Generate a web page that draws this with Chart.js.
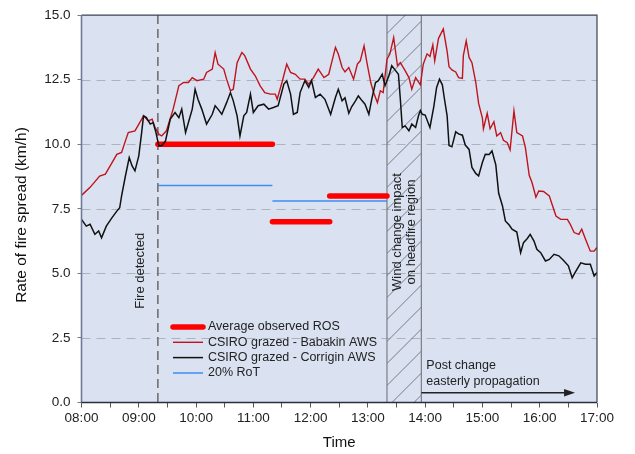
<!DOCTYPE html>
<html><head><meta charset="utf-8">
<script src="https://cdn.jsdelivr.net/npm/chart.js@4.4.1/dist/chart.umd.min.js"></script>
<style>html,body{margin:0;padding:0;background:#fff}</style>
</head><body>
<canvas id="c" width="635" height="454"></canvas>
<script>
// x values are minutes after 08:00
const timeLabels = ['08:00','09:00','10:00','11:00','12:00','13:00','14:00','15:00','16:00','17:00'];
const yTickValues = [0, 2.5, 5, 7.5, 10, 12.5, 15];

const babakinT = [0,9,19,25,32,37,42,46,49,56,61,65,70,74,77,81,84,89,96,102,107,112,116,121,128,131,137,140,143,149,152,156,159,163,168,171,177,182,187,192,198,203,205,210,215,219,224,229,234,238,243,248,254,259,262,266,269,273,276,280,285,289,292,296,299,303,306,310,313,316,320,323,327,331,334,339,343,346,350,355,358,362,365,368,370,374,379,383,385,388,392,395,399,400,403,406,409,413,416,420,421,425,428,432,435,439,442,446,449,453,456,462,465,469,472,476,479,484,490,493,497,502,509,512,516,521,524,528,533,537,540];
const babakinV = [8.02,8.33,8.77,8.84,9.29,9.61,9.68,10.13,10.45,10.52,10.84,11.1,10.9,10.97,10.65,10.39,10.32,10.52,11.36,12.27,12.39,12.39,12.58,12.46,12.52,12.78,12.91,13.55,13.1,12.91,12.52,12.07,12.13,13.16,13.55,13.43,12.91,12.65,12.27,12.0,11.94,11.94,11.74,12.39,13.1,12.78,12.71,12.52,12.52,12.33,12.58,12.91,12.58,12.71,13.16,13.75,13.49,12.97,12.8,12.97,12.52,13.1,13.23,13.81,13.16,12.39,12.0,11.61,12.07,12.0,13.29,13.49,14.13,13.04,13.16,12.85,12.58,12.13,12.58,12.3,13.1,13.5,13.4,13.85,13.23,14.1,14.46,13.6,13.0,12.88,12.8,12.58,12.55,13.43,14.0,13.36,13.16,12.4,11.58,11.0,10.6,11.2,10.6,10.87,10.32,10.45,10.15,10.06,9.78,11.29,10.45,10.32,9.87,8.8,8.51,7.95,8.19,8.17,8.0,7.67,7.22,7.09,7.09,6.9,6.58,6.51,6.71,6.32,5.86,5.86,6.0];

const corriginT = [0,5,9,14,18,21,26,32,37,40,42,46,50,53,56,60,63,65,68,72,75,78,81,84,88,93,98,102,105,109,112,116,119,122,126,131,137,140,143,147,152,156,159,163,166,170,173,177,180,185,191,196,201,206,212,215,219,222,226,229,234,238,241,245,250,255,261,266,269,273,276,280,283,287,290,294,297,301,304,308,311,315,318,322,325,329,332,334,336,339,343,346,350,353,355,357,360,365,369,372,375,378,380,383,385,388,392,395,399,402,406,409,413,416,420,423,427,430,434,437,441,444,448,451,456,460,463,467,470,474,477,481,486,490,495,500,505,510,514,517,523,528,533,537,540];
const corriginV = [7.09,6.83,6.9,6.51,6.64,6.38,6.83,7.16,7.41,7.54,8.0,8.77,9.48,9.16,8.97,9.55,10.45,11.1,11.03,10.78,10.84,10.45,9.94,9.94,10.13,10.97,11.23,11.03,11.36,10.45,10.84,11.36,12.13,11.74,11.36,10.78,11.16,11.49,11.36,11.16,11.61,12.0,11.68,11.1,10.32,11.1,11.23,11.94,11.23,11.49,11.55,11.36,11.42,11.49,12.33,12.46,11.94,11.16,11.23,12.0,12.46,12.2,12.46,11.81,11.94,11.74,11.16,11.81,12.13,11.68,11.8,11.2,11.45,11.68,11.87,11.68,11.55,11.16,11.74,12.39,12.46,12.71,12.27,12.65,13.04,12.85,12.71,11.74,10.65,10.71,10.52,10.78,10.65,11.1,11.3,11.16,11.13,10.65,11.45,12.2,12.52,12.3,11.8,11.1,9.95,9.9,10.48,10.4,10.35,9.97,9.8,9.1,8.87,8.77,9.3,9.61,9.6,9.74,9.2,8.1,7.61,7.03,6.87,6.71,6.6,5.8,6.19,6.35,6.51,6.25,5.93,5.8,5.48,5.54,5.74,5.68,5.5,5.29,4.83,5.03,5.41,5.35,5.35,4.9,5.03];

// Average observed ROS segments
const rosStart = [80, 200, 260];
const rosEnd   = [200, 260, 320];
const rosValue = [10.0, 7.0, 8.0];
// 20% RoT segments
const rotStart = [80, 200];
const rotEnd   = [200, 320];
const rotValue = [8.4, 7.8];

const fireDetectedT = 80;
const windChangeStart = 320, windChangeEnd = 356;
const arrowStart = 356, arrowEnd = 517, arrowValue = 0.38;

const legendLabels = ['Average observed ROS','CSIRO grazed - Babakin AWS','CSIRO grazed - Corrigin AWS','20% RoT'];
const yTitle = 'Rate of fire spread (km/h)';

const FONT = '"Liberation Sans", Arial, sans-serif';
const C_RED_LINE = '#c0141c', C_BLACK = '#111111', C_ROS = '#ff0000', C_ROT = '#3d8ef0';

const datasets = [];
for (let i = 0; i < rosStart.length; i++) {
  datasets.push({data:[{x:rosStart[i],y:rosValue[i]},{x:rosEnd[i],y:rosValue[i]}],
    borderColor:C_ROS, borderWidth:5.5, borderCapStyle:'round', pointRadius:0, order:10});
}
for (let i = 0; i < rotStart.length; i++) {
  datasets.push({data:[{x:rotStart[i],y:rotValue[i]},{x:rotEnd[i],y:rotValue[i]}],
    borderColor:C_ROT, borderWidth:1.5, pointRadius:0, order:9});
}
datasets.push({data: babakinT.map((t,i)=>({x:t,y:babakinV[i]})), borderColor:C_RED_LINE, borderWidth:1.4, pointRadius:0, order:2});
datasets.push({data: corriginT.map((t,i)=>({x:t,y:corriginV[i]})), borderColor:C_BLACK, borderWidth:1.5, pointRadius:0, order:1});

const bgPlugin = {
  id:'bg',
  beforeDatasetsDraw(chart){
    const {ctx, chartArea:a, scales:{x,y}} = chart;
    ctx.save();
    ctx.fillStyle = '#dae2f2';
    ctx.fillRect(a.left, a.top, a.right-a.left, a.bottom-a.top);
    // dashed grid
    ctx.strokeStyle = '#adb3bd'; ctx.lineWidth = 1; ctx.setLineDash([9,6]);
    yTickValues.forEach(v => { if (v>0 && v<15) { const py = Math.round(y.getPixelForValue(v))+0.5; ctx.beginPath(); ctx.moveTo(a.left,py); ctx.lineTo(a.right,py); ctx.stroke(); }});
    // fire detected
    ctx.strokeStyle = '#707070'; ctx.lineWidth = 1.6; ctx.setLineDash([9,5]);
    const fx = x.getPixelForValue(fireDetectedT);
    ctx.beginPath(); ctx.moveTo(fx, a.top); ctx.lineTo(fx, a.bottom); ctx.stroke();
    ctx.setLineDash([]);
    // hatched region
    const x0 = x.getPixelForValue(windChangeStart), x1 = x.getPixelForValue(windChangeEnd);
    ctx.save();
    ctx.beginPath(); ctx.rect(x0, a.top, x1-x0, a.bottom-a.top); ctx.clip();
    ctx.strokeStyle = '#6d7078'; ctx.lineWidth = 0.9;
    for (let yy = a.top - 60; yy < a.bottom + 60; yy += 22) {
      ctx.beginPath(); ctx.moveTo(x0, yy + (x1-x0)); ctx.lineTo(x1, yy); ctx.stroke();
    }
    ctx.restore();
    ctx.strokeStyle = '#7a7d85'; ctx.lineWidth = 1.2;
    ctx.beginPath(); ctx.moveTo(x0, a.top); ctx.lineTo(x0, a.bottom); ctx.moveTo(x1, a.top); ctx.lineTo(x1, a.bottom); ctx.stroke();
    // rotated texts
    ctx.fillStyle = '#222'; ctx.font = '13px ' + FONT; ctx.textAlign = 'center'; ctx.textBaseline = 'middle';
    ctx.save(); ctx.translate(fx - 17, y.getPixelForValue(5.1)); ctx.rotate(-Math.PI/2); ctx.fillText('Fire detected', 0, 0); ctx.restore();
    ctx.save(); ctx.translate((x0+x1)/2, y.getPixelForValue(6.6)); ctx.rotate(-Math.PI/2);
    ctx.fillText('Wind change impact', 0, -7); ctx.fillText('on headfire region', 0, 7); ctx.restore();
    ctx.restore();
  },
  afterDatasetsDraw(chart){
    const {ctx, chartArea:a, scales:{x,y}} = chart;
    ctx.save();
    // frame
    ctx.lineWidth = 1.2; ctx.strokeStyle = '#3c4352';
    ctx.beginPath(); ctx.moveTo(a.left, a.top); ctx.lineTo(a.right, a.top); ctx.lineTo(a.right, a.bottom); ctx.stroke();
    ctx.strokeStyle = '#6b7a98'; ctx.lineWidth = 1.6;
    ctx.beginPath(); ctx.moveTo(a.left, a.top); ctx.lineTo(a.left, a.bottom); ctx.stroke();
    ctx.strokeStyle = '#2a2f3a'; ctx.lineWidth = 1.4;
    ctx.beginPath(); ctx.moveTo(a.left, a.bottom); ctx.lineTo(a.right, a.bottom); ctx.stroke();
    // legend
    const lx0 = 173, lx1 = 203, tx = 208; const rows = [327, 342.3, 357.6, 373];
    const styles = [[C_ROS,5.5],[C_RED_LINE,1.4],[C_BLACK,1.5],[C_ROT,1.5]];
    ctx.font = '12.5px ' + FONT; ctx.textAlign = 'left'; ctx.textBaseline = 'middle';
    rows.forEach((ry,i)=>{
      ctx.strokeStyle = styles[i][0]; ctx.lineWidth = styles[i][1]; ctx.lineCap = i===0?'round':'butt';
      ctx.beginPath(); ctx.moveTo(lx0, ry); ctx.lineTo(lx1, ry); ctx.stroke();
      ctx.fillStyle = '#222'; ctx.fillText(legendLabels[i], tx, ry);
    });
    ctx.lineCap = 'butt';
    // arrow
    const ax0 = x.getPixelForValue(arrowStart), ax1 = x.getPixelForValue(arrowEnd), ay = y.getPixelForValue(arrowValue);
    ctx.strokeStyle = '#222'; ctx.fillStyle = '#222'; ctx.lineWidth = 1.6;
    ctx.beginPath(); ctx.moveTo(ax0, ay); ctx.lineTo(ax1 - 8, ay); ctx.stroke();
    ctx.beginPath(); ctx.moveTo(ax1, ay); ctx.lineTo(ax1 - 11, ay - 3.8); ctx.lineTo(ax1 - 11, ay + 3.8); ctx.closePath(); ctx.fill();
    ctx.font = '12.5px ' + FONT; ctx.textBaseline = 'middle';
    ctx.fillText('Post change', ax0 + 5, ay - 27);
    ctx.fillText('easterly propagation', ax0 + 5, ay - 11);
    // y axis title
    ctx.font = '15.5px ' + FONT; ctx.fillStyle = '#111'; ctx.textAlign = 'center';
    ctx.save(); ctx.translate(22, 215); ctx.rotate(-Math.PI/2); ctx.fillText(yTitle, 0, 0); ctx.restore();
    ctx.restore();
  }
};

new Chart(document.getElementById('c'), {
  type:'line',
  data:{datasets},
  options:{
    responsive:false, animation:false, devicePixelRatio:1,
    layout:{padding:{left:0, right:38, top:15, bottom:0}},
    plugins:{legend:{display:false}, tooltip:{enabled:false}},
    scales:{
      x:{type:'linear', min:0, max:540,
        afterFit(s){ s.height = 51.5; },
        border:{display:false},
        grid:{drawOnChartArea:false, drawTicks:true, tickLength:5, color:'#555', lineWidth:1},
        ticks:{stepSize:30, autoSkip:false, maxRotation:0, padding:3, color:'#222', font:{family:FONT, size:13.5},
          callback:(v)=> (v % 60 === 0 ? timeLabels[v/60] : '')},
        title:{display:true, text:'Time', color:'#111', font:{family:FONT, size:15}, padding:{top:0, bottom:2}}
      },
      y:{min:0, max:15,
        afterFit(s){ s.width = 81.5; },
        border:{display:false},
        grid:{drawOnChartArea:false, drawTicks:true, tickLength:4, color:'#6b7a98'},
        ticks:{stepSize:2.5, padding:7, color:'#222', font:{family:FONT, size:13.5},
          callback:(v)=> v.toFixed(1)}
      }
    }
  },
  plugins:[bgPlugin]
});
</script>
</body></html>
